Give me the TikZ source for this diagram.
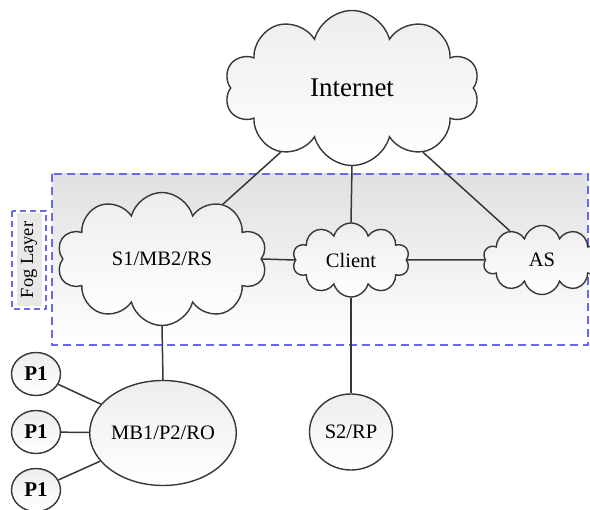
\documentclass[tikz,border=0pt]{standalone}
\usepackage{fontspec}
\setmainfont{Liberation Serif}
\usetikzlibrary{shapes.symbols,shapes.geometric}
\definecolor{fogblue}{RGB}{105,105,238}
\definecolor{edgegray}{RGB}{55,55,55}
\tikzset{
  cloudnode/.style={cloud, cloud puffs=10, cloud puff arc=150, draw=edgegray, line width=1.4pt,
    top color=gray!14, bottom color=white, inner sep=0pt, font=\fontsize{20.5}{22}\selectfont},
  circnode/.style={ellipse, draw=edgegray, line width=1.4pt, top color=gray!14, bottom color=white,
    inner sep=0pt, font=\fontsize{20.5}{22}\selectfont},
  pnode/.style={circnode, font=\fontsize{21}{23}\selectfont\bfseries},
  link/.style={draw=edgegray, line width=1.5pt},
  fogdash/.style={draw=fogblue, line width=2.4pt, dash pattern=on 8pt off 5pt}
}
\begin{document}
\begin{tikzpicture}[x=1pt,y=-1pt]
\useasboundingbox (0,0) rectangle (590,510);
% fog layer region
\fill[top color=gray!24, bottom color=white] (52,174) rectangle (588,345);
\draw[fogdash] (52,174) rectangle (588,345);
% fog layer label
\fill[gray!18] (17,213) rectangle (42,306);
\draw[fogdash, line width=2pt, dash pattern=on 6pt off 4pt] (12,211) rectangle (46,309);
\node[rotate=90, font=\fontsize{18.5}{20}\selectfont] (foglabel) at (29,260) {Fog Layer};
% links (drawn first, behind nodes)
\coordinate (cI) at (352,88);
\coordinate (cS1) at (162,259);
\coordinate (cCl) at (351,260);
\coordinate (cAS) at (542,260);
\coordinate (cMB) at (163,433);
\coordinate (cS2) at (351,432);
\coordinate (cP1) at (36,374);
\coordinate (cP2) at (36,432);
\coordinate (cP3) at (36,490);
% nodes
\node[cloudnode, aspect=1.65, minimum width=255pt, minimum height=155pt, font=\fontsize{27}{29}\selectfont] (internet) at (cI) {Internet};
\node[cloudnode, aspect=1.58, minimum width=210pt, minimum height=133pt] (s1) at (cS1) {S1/MB2/RS};
\node[cloudnode, aspect=1.58, minimum width=117pt, minimum height=74pt] (client) at (cCl) {Client};
\node[cloudnode, aspect=1.7, minimum width=118pt, minimum height=69pt] (as) at (cAS) {AS};
\node[circnode, minimum width=116pt, minimum height=105pt] (mb1) at (cMB) {MB1/P2/RO};
\node[circnode, minimum width=83pt, minimum height=76pt] (s2) at (cS2) {S2/RP};
\node[pnode, minimum width=49pt, minimum height=43pt] (p1a) at (cP1) {P1};
\node[pnode, minimum width=49pt, minimum height=43pt] (p1b) at (cP2) {P1};
\node[pnode, minimum width=49pt, minimum height=43pt] (p1c) at (cP3) {P1};
% links
\path[link] (internet) -- (s1);
\path[link] (internet.south) -- (client.north);
\path[link] (internet) -- (as);
\path[link] (s1.east) -- (client.west);
\path[link] (client.east) -- (as.west);
\path[link] (s1.south) -- (mb1.north);
\path[link] (client.south) -- (s2.north);
\path[link] (p1a) -- (mb1);
\path[link] (p1b) -- (mb1);
\path[link] (p1c) -- (mb1);
\end{tikzpicture}
\end{document}
